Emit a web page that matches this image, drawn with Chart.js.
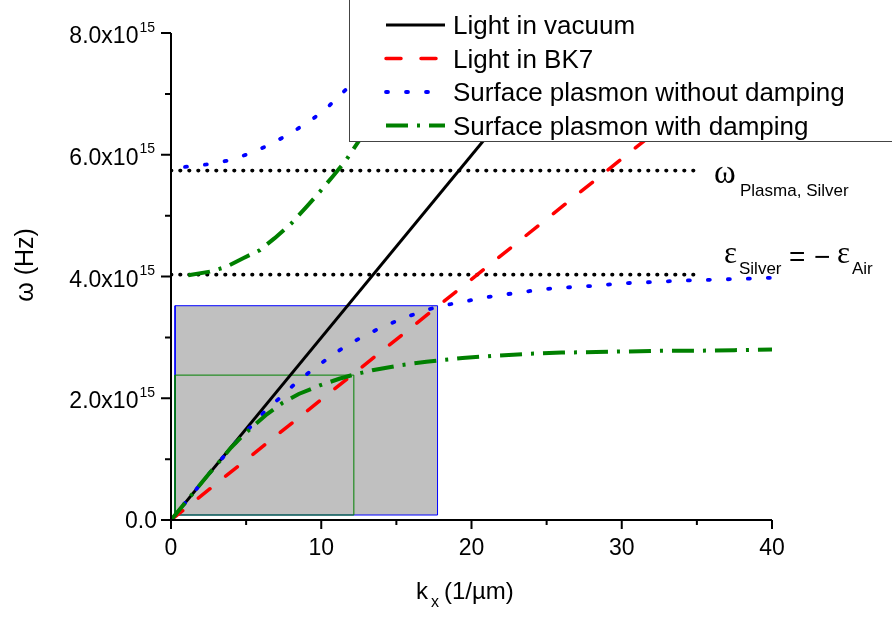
<!DOCTYPE html>
<html>
<head>
<meta charset="utf-8">
<script src="https://cdn.jsdelivr.net/npm/chart.js@4.4.0/dist/chart.umd.min.js"></script>
<style>
  html, body { margin: 0; padding: 0; background: #fff; }
  #wrap { width: 892px; height: 617px; }
</style>
</head>
<body>
<div id="wrap"><canvas id="dispersionChart" width="892" height="617"></canvas></div>
<script>
// Values: k in 1/um, omega in units of 1e15 Hz
const kVacuum = [0, 26.7];
const wVacuum = [0, 8.0];

const kBK7 = [0, 40];
const wBK7 = [0, 7.91];

const kSPLower = [0, 2.7, 3.6, 4.47, 5.37, 6.26, 7.26, 8.26, 9.37, 10.47, 11.58, 12.75, 13.97, 15.2, 16.5, 17.7, 19.1, 20.4, 21.7, 23.05, 24.4, 25.7, 27.0, 28.4, 29.7, 31.0, 32.35, 33.7, 35.0, 36.4, 37.7, 39.1, 40];
const wSPLower = [0, 0.81, 1.07, 1.32, 1.55, 1.79, 2.01, 2.24, 2.46, 2.66, 2.85, 3.01, 3.16, 3.29, 3.41, 3.50, 3.57, 3.63, 3.69, 3.73, 3.78, 3.81, 3.83, 3.85, 3.88, 3.90, 3.91, 3.93, 3.94, 3.95, 3.96, 3.97, 3.98];

const kSPUpper = [0.93, 2.37, 3.7, 5.0, 6.24, 7.35, 8.45, 9.55, 10.55, 11.55, 12.5, 13.5];
const wSPUpper = [5.80, 5.84, 5.90, 6.00, 6.13, 6.27, 6.43, 6.61, 6.81, 7.05, 7.25, 7.5];

const kDampLower = [0, 2.5, 4.0, 4.8, 5.5, 6.4, 7.4, 8.5, 9.9, 11.2, 12.2, 13.4, 15.2, 17.0, 19.4, 21.6, 23.8, 26.0, 28.3, 30.5, 32.7, 34.9, 37.5, 40];
const wDampLower = [0, 0.75, 1.19, 1.39, 1.55, 1.74, 1.92, 2.07, 2.21, 2.32, 2.39, 2.46, 2.54, 2.60, 2.66, 2.70, 2.73, 2.75, 2.76, 2.77, 2.78, 2.78, 2.79, 2.80];

const kDampUpper = [1.15, 2.59, 3.7, 4.8, 5.9, 6.9, 8.0, 9.0, 9.9, 10.75, 11.65, 12.54, 13.4];
const wDampUpper = [4.02, 4.08, 4.16, 4.30, 4.43, 4.63, 4.87, 5.14, 5.39, 5.64, 5.91, 6.24, 6.55];

const kLevelLine = [0, 35.2];
const wPlasma = 5.74;
const wSurface = 4.03;

const kGrayBox = [0.27, 17.74, 17.74, 0.27, 0.27];
const wGrayBox = [0.082, 0.082, 3.52, 3.52, 0.082];
const kGreenBox = [0.27, 12.17, 12.17, 0.27, 0.27];
const wGreenBox = [0.082, 0.082, 2.38, 2.38, 0.082];

const xMajorTicks = [0, 10, 20, 30, 40];
const xMinorTicks = [5, 15, 25, 35];
const yMajorTicks = [0, 2, 4, 6, 8];
const yMinorTicks = [1, 3, 5, 7];
const yTickMantissa = ['0.0', '2.0x10', '4.0x10', '6.0x10', '8.0x10'];
const yTickExponent = ['', '15', '15', '15', '15'];

const legendLabels = ['Light in vacuum', 'Light in BK7', 'Surface plasmon without damping', 'Surface plasmon with damping'];

const pts = (ks, ws) => ks.map((k, i) => ({ x: k, y: ws[i] }));
const SANS = '"Liberation Sans", Arial, sans-serif';
const SERIF = '"Liberation Serif", "Times New Roman", serif';

const colors = {
  vacuum: '#000000',
  bk7: '#ff0000',
  plasmon: '#0000ff',
  damped: '#008000',
  box: '#c0c0c0'
};

function lineSet(label, data, color, width, dash, cap, order) {
  return {
    label: label,
    data: data,
    showLine: true,
    borderColor: color,
    borderWidth: width,
    borderDash: dash,
    borderCapStyle: cap,
    pointRadius: 0,
    fill: false,
    order: order
  };
}

const datasets = [
  {
    label: 'box1',
    data: pts(kGrayBox, wGrayBox),
    showLine: true,
    borderColor: '#0000ff',
    borderWidth: 1,
    backgroundColor: colors.box,
    fill: 'shape',
    pointRadius: 0,
    order: 20
  },
  {
    label: 'box2',
    data: pts(kGreenBox, wGreenBox),
    showLine: true,
    borderColor: '#008000',
    borderWidth: 1,
    fill: false,
    pointRadius: 0,
    order: 19
  },
  lineSet('level1', pts(kLevelLine, [wPlasma, wPlasma]), '#000000', 3.6, [0.6, 8.4], 'round', 6),
  lineSet('level2', pts(kLevelLine, [wSurface, wSurface]), '#000000', 3.6, [0.6, 8.4], 'round', 6),
  lineSet(legendLabels[0], pts(kVacuum, wVacuum), colors.vacuum, 3, [], 'butt', 4),
  lineSet(legendLabels[1], pts(kBK7, wBK7), colors.bk7, 3.5, [15, 20], 'round', 3),
  lineSet(legendLabels[2], pts(kSPLower, wSPLower), colors.plasmon, 3.8, [2, 18], 'round', 2),
  lineSet(legendLabels[2], pts(kSPUpper, wSPUpper), colors.plasmon, 3.8, [2, 18], 'round', 2),
  lineSet(legendLabels[3], pts(kDampLower, wDampLower), colors.damped, 4, [22, 9, 3, 9], 'butt', 1),
  lineSet(legendLabels[3], pts(kDampUpper, wDampUpper), colors.damped, 4, [22, 9, 3, 9], 'butt', 1)
];

// Axes, tick labels, titles, annotations and the legend box
const decorPlugin = {
  id: 'decor',
  afterDatasetsDraw(chart) {
    const ctx = chart.ctx;
    const xs = chart.scales.x;
    const ys = chart.scales.y;
    const area = chart.chartArea;
    ctx.save();
    ctx.fillStyle = '#000';
    ctx.strokeStyle = '#000';

    // axis lines
    ctx.lineWidth = 2;
    ctx.beginPath();
    ctx.moveTo(area.left, area.top);
    ctx.lineTo(area.left, area.bottom);
    ctx.lineTo(area.right, area.bottom);
    ctx.stroke();

    // ticks
    ctx.lineWidth = 2;
    ctx.beginPath();
    xMajorTicks.forEach(v => { const p = xs.getPixelForValue(v); ctx.moveTo(p, area.bottom); ctx.lineTo(p, area.bottom + 9); });
    xMinorTicks.forEach(v => { const p = xs.getPixelForValue(v); ctx.moveTo(p, area.bottom); ctx.lineTo(p, area.bottom + 5); });
    yMajorTicks.forEach(v => { const p = ys.getPixelForValue(v); ctx.moveTo(area.left, p); ctx.lineTo(area.left - 10, p); });
    yMinorTicks.forEach(v => { const p = ys.getPixelForValue(v); ctx.moveTo(area.left, p); ctx.lineTo(area.left - 6, p); });
    ctx.stroke();

    // x tick labels
    ctx.font = '23px ' + SANS;
    ctx.textAlign = 'center';
    ctx.textBaseline = 'alphabetic';
    xMajorTicks.forEach(v => ctx.fillText(String(v), xs.getPixelForValue(v), area.bottom + 35));

    // y tick labels with superscript exponent
    const labelRight = area.left - 16;
    yMajorTicks.forEach((v, i) => {
      const p = ys.getPixelForValue(v);
      ctx.textAlign = 'right';
      if (yTickExponent[i]) {
        ctx.font = '14px ' + SANS;
        const ew = ctx.measureText(yTickExponent[i]).width;
        ctx.fillText(yTickExponent[i], labelRight, p - 1.5);
        ctx.font = '23px ' + SANS;
        ctx.fillText(yTickMantissa[i], labelRight - ew - 1, p + 10);
      } else {
        ctx.font = '23px ' + SANS;
        ctx.fillText(yTickMantissa[i], labelRight + 2, p + 7.5);
      }
    });

    // x axis title
    ctx.textAlign = 'left';
    ctx.font = '24px ' + SANS;
    ctx.fillText('k', 416, 599);
    ctx.font = '16px ' + SANS;
    ctx.fillText('x', 431, 607);
    ctx.font = '24px ' + SANS;
    ctx.fillText('(1/\u00b5m)', 444, 599);

    // y axis title
    ctx.save();
    ctx.translate(26, 265);
    ctx.rotate(-Math.PI / 2);
    ctx.textAlign = 'center';
    ctx.textBaseline = 'middle';
    ctx.font = '25px ' + SANS;
    ctx.fillText('\u03c9 (Hz)', 0, 0);
    ctx.restore();

    // annotations
    ctx.textAlign = 'left';
    ctx.font = '33px ' + SERIF;
    ctx.fillText('\u03c9', 714, 183);
    ctx.font = '17px ' + SANS;
    ctx.fillText('Plasma, Silver', 740, 196);
    ctx.font = '31px ' + SERIF;
    ctx.fillText('\u03b5', 724, 263);
    ctx.font = '17px ' + SANS;
    ctx.fillText('Silver', 739, 274);
    ctx.font = '28px ' + SANS;
    ctx.fillText('=', 789, 266);
    ctx.fillText('\u2212', 814, 266);
    ctx.font = '31px ' + SERIF;
    ctx.fillText('\u03b5', 837, 263);
    ctx.font = '17px ' + SANS;
    ctx.fillText('Air', 852, 274);

    // legend box
    const boxLeft = 349.5, boxBottom = 141.5;
    ctx.fillStyle = '#fff';
    ctx.fillRect(boxLeft, -2, chart.width - boxLeft + 2, boxBottom + 2);
    ctx.strokeStyle = '#444';
    ctx.lineWidth = 1;
    ctx.strokeRect(boxLeft, -2, chart.width - boxLeft + 2, boxBottom + 2);
    const rowY = [25, 58.5, 92, 125.5];
    legendLabels.forEach((lab, i) => {
      const ds = chart.data.datasets.find(d => d.label === lab);
      ctx.save();
      ctx.strokeStyle = ds.borderColor;
      ctx.lineWidth = ds.borderWidth;
      ctx.setLineDash(ds.borderDash);
      ctx.lineCap = ds.borderCapStyle;
      ctx.beginPath();
      ctx.moveTo(386, rowY[i]);
      ctx.lineTo(445, rowY[i]);
      ctx.stroke();
      ctx.restore();
      ctx.fillStyle = '#000';
      ctx.font = '26px ' + SANS;
      ctx.textAlign = 'left';
      ctx.fillText(lab, 453, rowY[i] + 9);
    });
    ctx.restore();
  }
};

document.addEventListener('DOMContentLoaded', function() {
  new Chart(document.getElementById('dispersionChart'), {
    type: 'scatter',
    data: { datasets: datasets },
    options: {
      responsive: false,
      animation: false,
      layout: { padding: { top: 33, right: 120, left: 0, bottom: 0 } },
      plugins: { legend: { display: false }, tooltip: { enabled: false } },
      scales: {
        x: {
          type: 'linear', min: 0, max: 40,
          ticks: { display: false },
          grid: { display: false },
          border: { display: false },
          afterFit: s => { s.height = 97; }
        },
        y: {
          type: 'linear', min: 0, max: 8,
          ticks: { display: false },
          grid: { display: false },
          border: { display: false },
          afterFit: s => { s.width = 171; }
        }
      }
    },
    plugins: [decorPlugin]
  });
});
</script>
</body>
</html>
